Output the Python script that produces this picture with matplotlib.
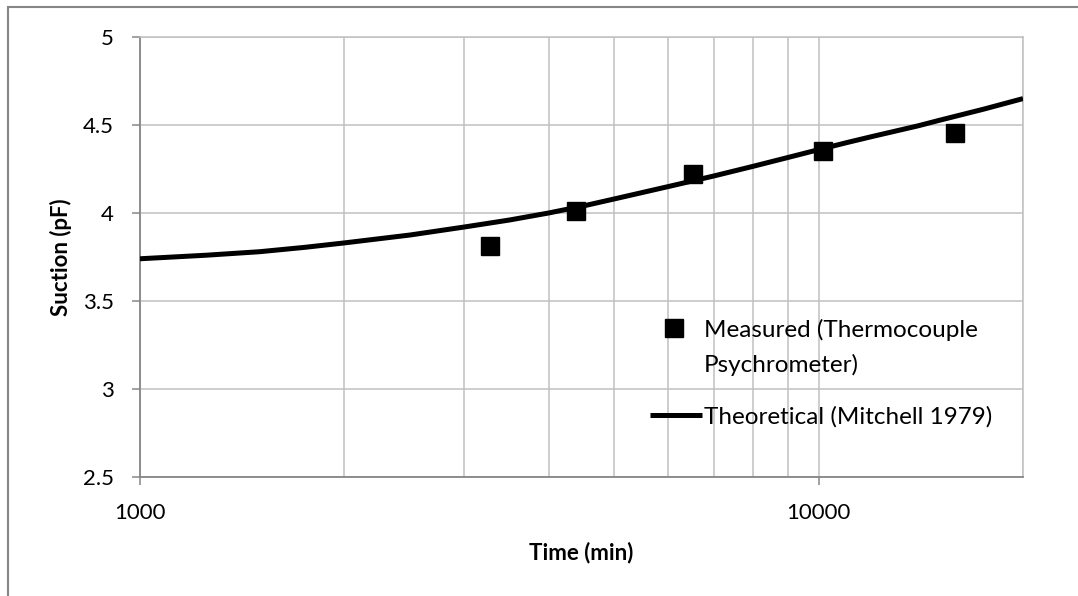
"""Suction vs time: measured psychrometer readings against theoretical curve"""
import matplotlib
matplotlib.use("Agg")
import matplotlib.pyplot as plt
from matplotlib.patches import Rectangle
from matplotlib.lines import Line2D
from matplotlib.ticker import LogLocator, NullFormatter, FixedLocator, FixedFormatter

plt.rcParams["font.family"] = ["Lato", "DejaVu Sans"]

# measured (thermocouple psychrometer)
time_measured = [3275, 4390, 6520, 10140, 15900]
suction_measured = [3.81, 4.01, 4.22, 4.35, 4.455]

# theoretical curve (Mitchell 1979)
time_theory = [1000, 1250, 1500, 1750, 2000, 2500, 3000, 3500, 4000, 4500, 5000,
               6000, 7000, 8000, 9000, 10000, 11000, 12000, 14000, 15000, 17500, 20000]
suction_theory = [3.74, 3.76, 3.78, 3.805, 3.83, 3.875, 3.92, 3.96, 4.00, 4.04, 4.08,
                  4.15, 4.21, 4.265, 4.315, 4.36, 4.40, 4.435, 4.495, 4.525, 4.59, 4.65]

y_ticks = [2.5, 3, 3.5, 4, 4.5, 5]
y_tick_labels = ["2.5", "3", "3.5", "4", "4.5", "5"]
x_major = [1000, 10000]
x_major_labels = ["1000", "10000"]

legend_measured = ["Measured (Thermocouple", "Psychrometer)"]
legend_theory = "Theoretical (Mitchell 1979)"

axis_grey = "#868686"
grid_grey = "#c0c0c0"

fig = plt.figure(figsize=(10.78, 5.96), dpi=100)
ax = fig.add_axes([140 / 1078, 119 / 596, 883 / 1078, 440 / 596])

ax.set_xscale("log")
ax.set_xlim(1000, 20000)
ax.set_ylim(2.5, 5)

ax.xaxis.set_major_locator(FixedLocator(x_major))
ax.xaxis.set_major_formatter(FixedFormatter(x_major_labels))
ax.xaxis.set_minor_locator(LogLocator(base=10, subs=range(2, 10)))
ax.xaxis.set_minor_formatter(NullFormatter())
ax.set_yticks(y_ticks)
ax.set_yticklabels(y_tick_labels)

ax.grid(True, which="both", axis="x", color=grid_grey, linewidth=1.1, zorder=0)
ax.grid(True, which="major", axis="y", color=grid_grey, linewidth=1.1, zorder=0)
ax.set_axisbelow(True)

ax.tick_params(axis="both", which="major", direction="out", length=6,
               width=1.1, color=axis_grey, labelsize=16, labelcolor="black")
ax.tick_params(axis="y", pad=13)
ax.tick_params(axis="x", pad=12.5)
ax.tick_params(axis="x", which="minor", length=0)

for side in ("left", "bottom"):
    ax.spines[side].set_color(axis_grey)
    ax.spines[side].set_linewidth(1.3)
for side in ("top", "right"):
    ax.spines[side].set_color(grid_grey)
    ax.spines[side].set_linewidth(1.1)

ax.plot(time_measured, suction_measured, linestyle="none", marker="s",
        markersize=13, color="black", zorder=4)
ax.plot(time_theory, suction_theory, color="black", linewidth=3.6,
        solid_capstyle="butt", zorder=3)

ax.set_xlabel("Time (min)", fontsize=16, fontweight="bold", labelpad=14)
ax.set_ylabel("Suction (pF)", fontsize=16, fontweight="bold", labelpad=8)

# legend keys and wrapped labels, laid out in axes fractions
leg_kw = dict(transform=ax.transAxes, fontsize=17.5, va="center_baseline",
              ha="left", zorder=5)
ax.add_line(Line2D([0.6048], [0.3386], transform=ax.transAxes, marker="s",
                   markersize=13, color="black", linestyle="none", zorder=5))
ax.text(0.6387, 0.3386, legend_measured[0], **leg_kw)
ax.text(0.6387, 0.2591, legend_measured[1], **leg_kw)
ax.add_line(Line2D([0.5776, 0.6365], [0.1409, 0.1409], transform=ax.transAxes,
                   color="black", linewidth=3.6, solid_capstyle="butt", zorder=5))
ax.text(0.6387, 0.1409, legend_theory, **leg_kw)

# outer chart border
fig.add_artist(Rectangle((8 / 1078, -0.1), 1.2, (589 / 596) + 0.1,
                         transform=fig.transFigure, fill=False,
                         edgecolor=axis_grey, linewidth=1.5))

fig.savefig("out.png", dpi=100)
plt.close(fig)
